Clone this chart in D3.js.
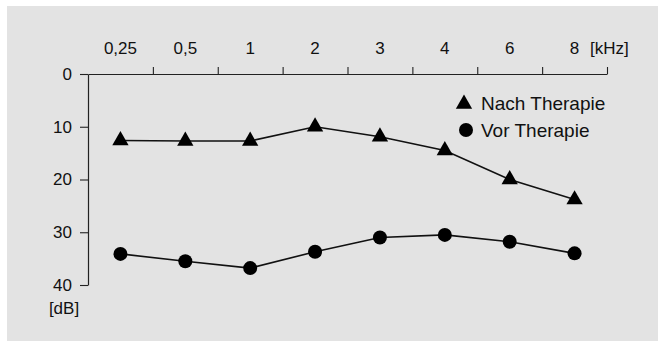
<!DOCTYPE html>
<html>
<head>
<meta charset="utf-8">
<script src="https://cdn.jsdelivr.net/npm/d3@7"></script>
<style>
  html, body { margin: 0; padding: 0; background: #ffffff; }
  svg { display: block; }
  text { font-family: "Liberation Sans", Arial, sans-serif; fill: #111; }
</style>
</head>
<body>
<svg id="chart" width="660" height="345"></svg>
<script>
// Data
const frequencies = ["0,25", "0,5", "1", "2", "3", "4", "6", "8"];
const nachTherapie = [12.6, 12.7, 12.7, 10.0, 11.9, 14.5, 20.0, 23.8];
const vorTherapie  = [34.1, 35.5, 36.8, 33.7, 31.0, 30.5, 31.8, 34.0];
const dbTicks = [0, 10, 20, 30, 40];
const seriesNames = ["Nach Therapie", "Vor Therapie"];

(function () {
const svg = d3.select("#chart");

// background panel
svg.append("rect")
  .attr("x", 7).attr("y", 6)
  .attr("width", 651).attr("height", 335)
  .attr("fill", "#e3e3e3");

const pLeft = 88, pRight = 607, pTop = 74, pBottom = 285;
const axisFont = 17;

const x = d3.scaleBand().domain(frequencies).range([pLeft, pRight]).paddingInner(0).paddingOuter(0);
const xEdge = d3.scaleLinear().domain([0, frequencies.length]).range([pLeft, pRight]);
const y = d3.scaleLinear().domain([0, 40]).range([pTop, pBottom]);

// X axis (top), ticks at band boundaries
const xAxis = d3.axisTop(xEdge)
  .tickValues(d3.range(1, frequencies.length + 1))
  .tickSizeInner(7).tickSizeOuter(0)
  .tickFormat("");
const gx = svg.append("g").attr("transform", `translate(0,${pTop})`).call(xAxis);
gx.select(".domain").attr("stroke", "#222").attr("stroke-width", 1.2);
gx.selectAll(".tick line").attr("stroke", "#222").attr("stroke-width", 1.1);

// X labels at band centers
svg.append("g").selectAll("text")
  .data(frequencies)
  .join("text")
  .attr("x", d => x(d) + x.bandwidth() / 2)
  .attr("y", 54)
  .attr("text-anchor", "middle")
  .attr("font-size", axisFont)
  .text(d => d);

svg.append("text")
  .attr("x", 590).attr("y", 54)
  .attr("font-size", axisFont)
  .text("[kHz]");

// Y axis
const yAxis = d3.axisLeft(y).tickValues(dbTicks).tickSizeInner(8).tickSizeOuter(0).tickPadding(8);
const gy = svg.append("g").attr("transform", `translate(${pLeft},0)`).call(yAxis);
gy.select(".domain").attr("stroke", "#222").attr("stroke-width", 1.2);
gy.selectAll(".tick line").attr("stroke", "#222").attr("stroke-width", 1.1);
gy.selectAll(".tick text")
  .attr("font-family", "Liberation Sans, Arial, sans-serif")
  .attr("font-size", axisFont)
  .attr("fill", "#111");

svg.append("text")
  .attr("x", 64).attr("y", 314)
  .attr("text-anchor", "middle")
  .attr("font-size", axisFont)
  .text("[dB]");

const cx = (i) => x(frequencies[i]) + x.bandwidth() / 2;
const line = d3.line().x((v, i) => cx(i)).y(v => y(v));

// Lines
[nachTherapie, vorTherapie].forEach(series => {
  svg.append("path").datum(series)
    .attr("d", line)
    .attr("fill", "none").attr("stroke", "#111").attr("stroke-width", 1.6);
});

// Markers
const tri = d3.symbol().type(d3.symbolTriangle).size(115);
svg.append("g").selectAll("path")
  .data(nachTherapie)
  .join("path")
  .attr("d", tri)
  .attr("transform", (d, i) => `translate(${cx(i)},${y(d)})`)
  .attr("fill", "#000");

svg.append("g").selectAll("circle")
  .data(vorTherapie)
  .join("circle")
  .attr("cx", (d, i) => cx(i))
  .attr("cy", d => y(d))
  .attr("r", 7)
  .attr("fill", "#000");

// Legend
svg.append("path").attr("d", tri).attr("transform", "translate(464,104)").attr("fill", "#000");
svg.append("text").attr("x", 481).attr("y", 110).attr("font-size", 19).text(seriesNames[0]);
svg.append("circle").attr("cx", 466).attr("cy", 130).attr("r", 7).attr("fill", "#000");
svg.append("text").attr("x", 481).attr("y", 137).attr("font-size", 19).text(seriesNames[1]);
})();
</script>
</body>
</html>
